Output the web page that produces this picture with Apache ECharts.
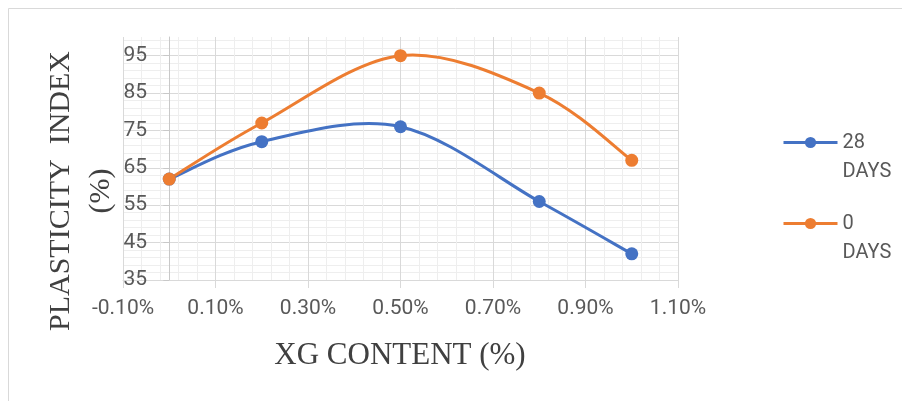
<!DOCTYPE html>
<html>
<head>
<meta charset="utf-8">
<script src="https://cdn.jsdelivr.net/npm/echarts@6/dist/echarts.min.js"></script>
<style>
html,body{margin:0;padding:0;background:#fff;}
#chart{width:902px;height:401px;}
</style>
</head>
<body>
<div id="chart"></div>
<script>
// ---- data ----
const xgContent = [0, 0.2, 0.5, 0.8, 1.0];          // XG content (%)
const days28 = [62, 72, 76, 56, 42];                // 28 DAYS
const days0 = [62, 77, 95, 85, 67];                 // 0 DAYS
const seriesNames = ['28 DAYS', '0 DAYS'];
const xTicks = [-0.1, 0.1, 0.3, 0.5, 0.7, 0.9, 1.1];
const yTicks = [35, 45, 55, 65, 75, 85, 95];
const yTitle = 'PLASTICITY  INDEX\n(%)';
const xTitle = 'XG CONTENT (%)';

const X_MIN = -0.1, X_MAX = 1.1, X_INT = 0.2;
const Y_MIN = 35, Y_MAX = 100, Y_INT = 10, Y_MINOR = 2;

const BLUE = '#4472C4', ORANGE = '#ED7D31';
const majorColor = '#d9d9d9';
const minorColor = '#eeeeee';
const labelColor = '#595959';

function pairs(xs, ys) { return xs.map((x, i) => [x, ys[i]]); }

// minor horizontal lines every 2 units from min (skip major positions and the top edge)
const minorYColors = [];
for (let v = Y_MIN; v <= Y_MAX + 1e-9; v += Y_MINOR) {
  const isMajor = Math.abs(((v - Y_MIN) % Y_INT)) < 1e-9;
  minorYColors.push(isMajor ? 'rgba(0,0,0,0)' : minorColor);
}
if (Math.abs((Y_MAX - Y_MIN) % Y_MINOR) > 1e-9) minorYColors.push('rgba(0,0,0,0)');
const majorYColors = yTicks.map(() => majorColor).concat(['rgba(0,0,0,0)']);

// smoothed curve (cardinal spline through the data points, like a spreadsheet "smoothed line")
function smoothCurve(xs, ys, color) {
  return function (params, api) {
    if (params.dataIndex !== 0) return null;
    const pts = xs.map((x, i) => api.coord([x, ys[i]]));
    const children = [];
    for (let i = 0; i < pts.length - 1; i++) {
      const p0 = pts[Math.max(i - 1, 0)], p1 = pts[i], p2 = pts[i + 1], p3 = pts[Math.min(i + 2, pts.length - 1)];
      children.push({
        type: 'bezierCurve',
        shape: {
          x1: p1[0], y1: p1[1],
          cpx1: p1[0] + (p2[0] - p0[0]) / 6, cpy1: p1[1] + (p2[1] - p0[1]) / 6,
          cpx2: p2[0] - (p3[0] - p1[0]) / 6, cpy2: p2[1] - (p3[1] - p1[1]) / 6,
          x2: p2[0], y2: p2[1]
        },
        style: { stroke: color, lineWidth: 3, fill: 'none', lineCap: 'round' }
      });
    }
    return { type: 'group', children: children };
  };
}

const chart = echarts.init(document.getElementById('chart'));
const option = {
  animation: false,
  backgroundColor: '#ffffff',
  grid: { left: 123, right: 224, top: 37, bottom: 121, containLabel: false },
  xAxis: [{
    type: 'value', min: X_MIN, max: X_MAX, interval: X_INT,
    axisLine: { show: true, onZero: false, lineStyle: { color: majorColor, width: 1 } },
    axisTick: { show: true, length: 8, lineStyle: { color: majorColor } },
    axisLabel: {
      margin: 18, color: labelColor, fontFamily: 'Roboto', fontSize: 21,
      formatter: v => v.toFixed(2) + '%'
    },
    splitLine: { show: true, lineStyle: { color: majorColor, width: 1 } },
    minorTick: { show: false, splitNumber: 5 },
    minorSplitLine: { show: true, lineStyle: { color: minorColor, width: 1 } }
  }],
  yAxis: [{
    type: 'value', min: Y_MIN, max: Y_MAX, interval: Y_MINOR,
    axisLine: { show: false, onZero: false }, axisTick: { show: false }, axisLabel: { show: false },
    splitLine: { show: true, lineStyle: { color: minorYColors, width: 1 } }
  }, {
    type: 'value', min: Y_MIN, max: Y_MAX, interval: Y_INT, position: 'left',
    axisLine: { show: true, onZero: true, lineStyle: { color: '#c8c8c8', width: 1 } },
    axisTick: { show: true, length: 6, customValues: yTicks, lineStyle: { color: '#c8c8c8' } },
    axisLabel: {
      margin: -24, color: labelColor, fontFamily: 'Roboto', fontSize: 21,
      customValues: yTicks,
      formatter: v => (yTicks.indexOf(v) >= 0 ? String(v) : '')
    },
    splitLine: { show: true, lineStyle: { color: majorYColors, width: 1 } }
  }],
  legend: {
    orient: 'vertical', left: 782, top: 99, padding: 0,
    itemWidth: 54, itemHeight: 14, itemGap: -6,
    data: seriesNames,
    lineStyle: { opacity: 1, width: 3 },
    formatter: name => ' \n' + name.replace(' ', '\n'),
    textStyle: { color: labelColor, fontFamily: 'Roboto', fontSize: 20, lineHeight: 29 }
  },
  series: [{
    name: 'curve-28', type: 'custom', coordinateSystem: 'cartesian2d', yAxisIndex: 1,
    data: pairs(xgContent, days28), renderItem: smoothCurve(xgContent, days28, BLUE), silent: true
  }, {
    name: 'curve-0', type: 'custom', coordinateSystem: 'cartesian2d', yAxisIndex: 1,
    data: pairs(xgContent, days0), renderItem: smoothCurve(xgContent, days0, ORANGE), silent: true
  }, {
    name: seriesNames[0], type: 'line', yAxisIndex: 1,
    data: pairs(xgContent, days28),
    symbol: 'circle', symbolSize: 13,
    lineStyle: { color: BLUE, width: 3, opacity: 0 },
    itemStyle: { color: BLUE }
  }, {
    name: seriesNames[1], type: 'line', yAxisIndex: 1,
    data: pairs(xgContent, days0),
    symbol: 'circle', symbolSize: 13,
    lineStyle: { color: ORANGE, width: 3, opacity: 0 },
    itemStyle: { color: ORANGE }
  }],
  graphic: [{
    type: 'rect', silent: true, z: -10,
    shape: { x: 8.5, y: 8.5, width: 1000, height: 1000 },
    style: { fill: 'none', stroke: '#d9d9d9', lineWidth: 1 }
  }, {
    type: 'text', x: 81, y: 191, rotation: Math.PI / 2,
    style: {
      text: yTitle, align: 'center', verticalAlign: 'middle',
      font: '30px "Liberation Serif", "Times New Roman", serif', lineHeight: 40, fill: '#404040'
    }
  }, {
    type: 'text', x: 400, y: 356,
    style: {
      text: xTitle, align: 'center', verticalAlign: 'middle',
      font: '31px "Liberation Serif", "Times New Roman", serif', fill: '#404040'
    }
  }]
};
chart.setOption(option);
</script>
</body>
</html>
